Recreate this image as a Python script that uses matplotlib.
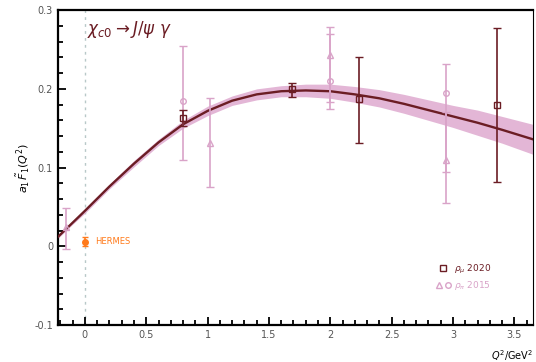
import numpy as np
import matplotlib.pyplot as plt
from matplotlib.legend_handler import HandlerTuple
from matplotlib.lines import Line2D

# fitted curve and its uncertainty band
curve_q2 = [-0.22, -0.1, 0.0, 0.2, 0.4, 0.6, 0.8, 1.0, 1.2, 1.4, 1.6, 1.8, 2.0, 2.2, 2.4, 2.6, 2.8, 3.0, 3.2, 3.4, 3.65]
curve_val = [0.012, 0.030, 0.045, 0.076, 0.105, 0.132, 0.155, 0.172, 0.185, 0.193, 0.197, 0.198, 0.197, 0.193, 0.188, 0.181, 0.173, 0.165, 0.157, 0.148, 0.136]
curve_err = [0.002, 0.002, 0.003, 0.003, 0.004, 0.004, 0.005, 0.006, 0.006, 0.007, 0.007, 0.008, 0.009, 0.010, 0.011, 0.012, 0.013, 0.014, 0.016, 0.017, 0.019]

# dark series (squares)
sq_q2 = [0.80, 1.69, 2.23, 3.36]
sq_val = [0.163, 0.200, 0.187, 0.179]
sq_lo = [0.010, 0.010, 0.056, 0.097]
sq_hi = [0.010, 0.008, 0.053, 0.098]

# light series (triangles and circles)
tri_q2 = [-0.15, 1.02, 2.00, 2.94]
tri_val = [0.024, 0.131, 0.243, 0.110]
tri_lo = [0.028, 0.055, 0.060, 0.055]
tri_hi = [0.025, 0.058, 0.035, 0.060]

circ_q2 = [0.80, 2.00, 2.94]
circ_val = [0.185, 0.210, 0.195]
circ_lo = [0.075, 0.035, 0.100]
circ_hi = [0.070, 0.060, 0.037]

# photoproduction point
ph_q2 = [0.0]
ph_val = [0.006]
ph_err = [0.006]

dark = '#6b1d24'
pink = '#d9a3c8'
band = '#e3b6d6'
orange = '#ff7a1a'

fig = plt.figure(figsize=(5.36, 3.62), dpi=100)
ax = fig.add_axes([0.108, 0.102, 0.886, 0.870])

ax.axvline(0.0, color='#b8c8c8', ls=(0, (2, 3)), lw=1.0, zorder=1)

lo = np.array(curve_val) - np.array(curve_err)
hi = np.array(curve_val) + np.array(curve_err)
ax.fill_between(curve_q2, lo, hi, color=band, lw=0, zorder=2)
ax.plot(curve_q2, curve_val, color=dark, lw=1.7, zorder=3)

ax.errorbar(tri_q2, tri_val, yerr=[tri_lo, tri_hi], fmt='^', ms=4, mfc='none',
            mec=pink, ecolor=pink, capsize=3, lw=1.2, zorder=4)
ax.errorbar(circ_q2, circ_val, yerr=[circ_lo, circ_hi], fmt='o', ms=4, mfc='none',
            mec=pink, ecolor=pink, capsize=3, lw=1.2, zorder=4)
ax.errorbar(sq_q2, sq_val, yerr=[sq_lo, sq_hi], fmt='s', ms=4.5, mfc='none',
            mec=dark, ecolor=dark, capsize=3, lw=1.2, zorder=5)
ax.errorbar(ph_q2, ph_val, yerr=ph_err, fmt='o', ms=4, color=orange,
            capsize=2, lw=1.2, zorder=5)
ax.text(0.08, 0.006, 'HERMES', color=orange, fontsize=6, va='center')

ax.text(0.02, 0.275, r'$\chi_{c0} \rightarrow J/\psi\ \gamma$', color=dark,
        fontsize=12, va='center')

h_sq = Line2D([], [], marker='s', ls='none', ms=4, mfc='none', mec=dark)
h_tri = Line2D([], [], marker='^', ls='none', ms=4, mfc='none', mec=pink)
h_circ = Line2D([], [], marker='o', ls='none', ms=4, mfc='none', mec=pink)
leg = ax.legend([h_sq, (h_tri, h_circ)], [r'$\rho_\mu$ 2020', r'$\rho_\pi$ 2015'],
                handler_map={tuple: HandlerTuple(ndivide=None, pad=0.3)},
                loc='lower right', bbox_to_anchor=(0.93, 0.08), frameon=False,
                fontsize=6.5, handlelength=1.6, handletextpad=0.4, labelspacing=0.3)
leg.get_texts()[0].set_color(dark)
leg.get_texts()[1].set_color(pink)

ax.set_xlim(-0.22, 3.65)
ax.set_ylim(-0.1, 0.3)
ax.set_xticks(np.arange(0, 3.6, 0.5))
ax.set_xticklabels(['0', '0.5', '1', '1.5', '2', '2.5', '3', '3.5'])
ax.set_xticks(np.arange(-0.2, 3.65, 0.1), minor=True)
ax.set_yticks([-0.1, 0.0, 0.1, 0.2, 0.3])
ax.set_yticklabels(['-0.1', '0', '0.1', '0.2', '0.3'])
ax.set_yticks(np.arange(-0.1, 0.301, 0.02), minor=True)
ax.tick_params(which='both', direction='in', labelsize=7, labelcolor='#555555',
               width=1.3, top=False, right=False)
ax.tick_params(which='major', length=6)
ax.tick_params(which='minor', length=3.5)

for side in ['left', 'bottom', 'top']:
    ax.spines[side].set_linewidth(1.6)
ax.spines['right'].set_linewidth(0.8)

ax.set_ylabel(r'$a_1\,\tilde{F}_1(Q^2)$', fontsize=8, labelpad=2)
ax.set_xlabel(r'$Q^2/\mathrm{GeV}^2$', fontsize=7, ha='right')
ax.xaxis.set_label_coords(1.0, -0.075)

fig.savefig('out.png', dpi=100)
